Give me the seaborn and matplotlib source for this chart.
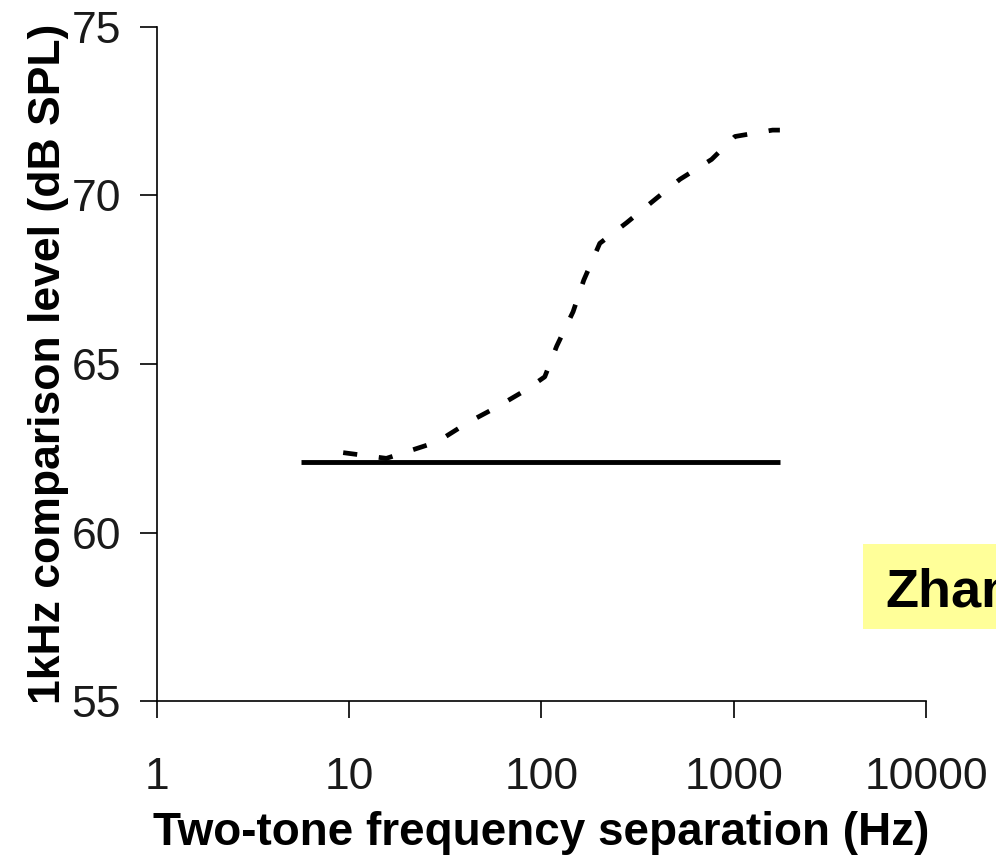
import matplotlib
matplotlib.use("Agg")
import matplotlib.pyplot as plt
from matplotlib.patches import Rectangle
import seaborn as sns
import pandas as pd

# Two-tone loudness match: comparison level vs. frequency separation
sep_hz = [9.3, 15.6, 28.7, 41.3, 58.5, 83, 104, 120, 146, 166, 201, 277, 397, 525, 767, 1014, 1592, 1738]
level_db = [62.37, 62.20, 62.69, 63.26, 63.72, 64.23, 64.62, 65.53, 66.55, 67.49, 68.58,
            69.19, 69.92, 70.48, 71.07, 71.75, 71.94, 71.94]

# Reference level of the single tone
ref_sep_hz = [5.6, 1738]
ref_level_db = [62.1, 62.1]

x_ticks = [1, 10, 100, 1000, 10000]
x_tick_labels = ["1", "10", "100", "1000", "10000"]
y_ticks = [55, 60, 65, 70, 75]

sns.set_style("ticks")
plt.rcParams["font.family"] = ["Liberation Sans", "DejaVu Sans"]
plt.rcParams["text.color"] = "black"
plt.rcParams["axes.labelcolor"] = "black"

fig = plt.figure(figsize=(9.96, 8.59), dpi=100)
ax = fig.add_axes([0.1576, 0.1839, 0.7721, 0.7847])

curve = pd.DataFrame({"sep": sep_hz, "level": level_db})
ref = pd.DataFrame({"sep": ref_sep_hz, "level": ref_level_db})

sns.lineplot(data=curve, x="sep", y="level", ax=ax, color="black", lw=3.4,
             linestyle=(0, (3.0, 4.6)), sort=False)
sns.lineplot(data=ref, x="sep", y="level", ax=ax, color="black", lw=3.5,
             solid_capstyle="butt")

ax.set_xscale("log")
ax.set_xlim(1, 10000)
ax.set_ylim(55, 75)
ax.set_xticks(x_ticks)
ax.set_xticklabels(x_tick_labels)
ax.minorticks_off()
ax.set_yticks(y_ticks)

sns.despine(ax=ax)
for s in ("left", "bottom"):
    ax.spines[s].set_linewidth(1.2)
    ax.spines[s].set_color("black")

ax.tick_params(axis="both", direction="out", length=12, width=1.2, colors="black",
               labelsize=32)
ax.tick_params(axis="x", pad=28)
ax.tick_params(axis="y", pad=14)
for lbl in ax.get_xticklabels() + ax.get_yticklabels():
    lbl.set_color("#1a1a1a")

ax.set_xlabel("Two-tone frequency separation (Hz)", fontsize=33, fontweight="bold", labelpad=10)
ax.set_ylabel("1kHz comparison level (dB SPL)", fontsize=32, fontweight="bold", labelpad=2)

# Author tag in a yellow box, running off the right edge
fig.patches.append(Rectangle((863 / 996, 1 - 629 / 859), 140 / 996, 85 / 859,
                             transform=fig.transFigure, facecolor="#FFFF99",
                             edgecolor="none", zorder=1))
fig.text(885 / 996, 1 - 607 / 859, "Zhang", fontsize=39, fontweight="bold",
         color="black", va="baseline", ha="left", zorder=2)

fig.savefig("out.png", dpi=100)
